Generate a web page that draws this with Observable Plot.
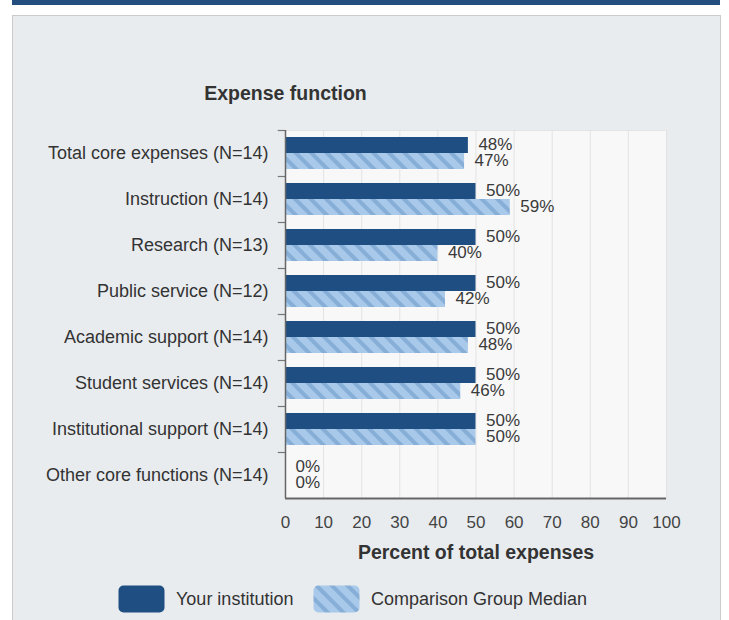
<!DOCTYPE html>
<html>
<head>
<meta charset="utf-8">
<script src="https://cdn.jsdelivr.net/npm/d3@7"></script>
<script src="https://cdn.jsdelivr.net/npm/@observablehq/plot@0.6"></script>
<style>
  html, body { margin: 0; padding: 0; background: #ffffff; }
  body { width: 729px; height: 620px; overflow: hidden; position: relative;
         font-family: "Liberation Sans", Arial, sans-serif; }
  #topband { position: absolute; left: 12px; top: 0; width: 708px; height: 5px; background: #234e7e; }
  #panel { position: absolute; left: 12px; top: 15px; width: 709px; height: 620px;
           background: #e8ecef; border: 1.5px solid #c9cbcd; box-sizing: border-box; }
  #chart { position: absolute; left: 0; top: 0; }
  .legend-item { position: absolute; top: 585px; height: 28px; display: flex; align-items: center; }
  .legend-item svg { display: block; }
  .legend-item span { font-size: 18px; color: #333; margin-left: 11px; white-space: nowrap; }
</style>
</head>
<body>
<div id="topband"></div>
<div id="panel"></div>
<div id="chart"></div>
<div id="legend"></div>
<script>
// ---- Data ----
const categories = [
  "Total core expenses (N=14)",
  "Instruction (N=14)",
  "Research (N=13)",
  "Public service (N=12)",
  "Academic support (N=14)",
  "Student services (N=14)",
  "Institutional support (N=14)",
  "Other core functions (N=14)"
];
const yourInstitution = [48, 50, 50, 50, 50, 50, 50, 0];
const groupMedian     = [47, 59, 40, 42, 48, 46, 50, 0];
const seriesNames = ["Your institution", "Comparison Group Median"];
const xTicks = [0, 10, 20, 30, 40, 50, 60, 70, 80, 90, 100];
const yTitle = "Expense function";
const xTitle = "Percent of total expenses";

const darkColor = "#1f4e82";
const hatchBase = "#a8c9e9";
const hatchStripe = "#86aed7";

const rows = categories.map((c, i) => ({category: c, yours: yourInstitution[i], median: groupMedian[i]}));

const svg = Plot.plot({
  width: 729,
  height: 570,
  marginLeft: 285,
  marginRight: 63,
  marginTop: 130,
  marginBottom: 72,
  style: {background: "transparent", fontFamily: "'Liberation Sans', Arial, sans-serif", color: "#333"},
  x: {domain: [0, 100]},
  y: {domain: categories, padding: 0},
  marks: [
    Plot.frame({fill: "#f8f8f8", stroke: "#e4e4e4"}),
    Plot.ruleX(xTicks, {stroke: "#e3e3e3", strokeWidth: 1}),
    Plot.barX(rows, {y: "category", x: "yours", fill: darkColor, insetTop: 7, insetBottom: 23}),
    Plot.barX(rows, {y: "category", x: "median", fill: "url(#hatch)", insetTop: 23, insetBottom: 7}),
    Plot.text(rows, {y: "category", x: "yours", text: d => d.yours + "%", dx: 10, dy: -9,
      textAnchor: "start", fontSize: 17, fill: "#3a3a3a"}),
    Plot.text(rows, {y: "category", x: "median", text: d => d.median + "%", dx: 10, dy: 7,
      textAnchor: "start", fontSize: 17, fill: "#3a3a3a"}),
    Plot.ruleY(categories, {y: d => d, x1: -1.9, x2: 0, dy: -23, stroke: "#777", strokeWidth: 1.2}),
    Plot.ruleY([categories[categories.length - 1]], {y: d => d, x1: 0, x2: 100, dy: 23, stroke: "#666", strokeWidth: 2}),
    Plot.ruleX([0], {stroke: "#666", strokeWidth: 1.5}),
    Plot.axisX(xTicks, {tickSize: 0, tickPadding: 17, fontSize: 17, label: null, fill: "#444"}),
    Plot.axisY({tickSize: 0, tickPadding: 17, fontSize: 18, label: null, fill: "#333"}),
    Plot.text([yTitle], {frameAnchor: "top-left", dy: -44, text: d => d, textAnchor: "middle",
      fontWeight: "bold", fontSize: 19.5, fill: "#333"}),
    Plot.text([xTitle], {frameAnchor: "bottom", dy: 60, text: d => d, textAnchor: "middle",
      fontWeight: "bold", fontSize: 19.5, fill: "#333"})
  ]
});

// hatch pattern definition
function addHatch(sel, id) {
  const defs = sel.insert("defs", ":first-child");
  const p = defs.append("pattern")
    .attr("id", id).attr("patternUnits", "userSpaceOnUse")
    .attr("width", 11).attr("height", 11)
    .attr("patternTransform", "rotate(-45)");
  p.append("rect").attr("width", 11).attr("height", 11).attr("fill", hatchBase);
  p.append("rect").attr("width", 4).attr("height", 11).attr("fill", hatchStripe);
}
addHatch(d3.select(svg), "hatch");
document.getElementById("chart").appendChild(svg);

// legend
const legend = d3.select("#legend");
const legendX = [118, 313];
seriesNames.forEach((name, i) => {
  const item = legend.append("div").attr("class", "legend-item").style("left", legendX[i] + "px");
  const s = item.append("svg").attr("width", 47).attr("height", 28);
  if (i === 1) addHatch(s, "hatchLegend");
  s.append("rect").attr("x", 0.5).attr("y", 0.5).attr("width", 46).attr("height", 27)
    .attr("rx", 5).attr("fill", i === 0 ? darkColor : "url(#hatchLegend)");
  item.append("span").text(name);
});
</script>
</body>
</html>
